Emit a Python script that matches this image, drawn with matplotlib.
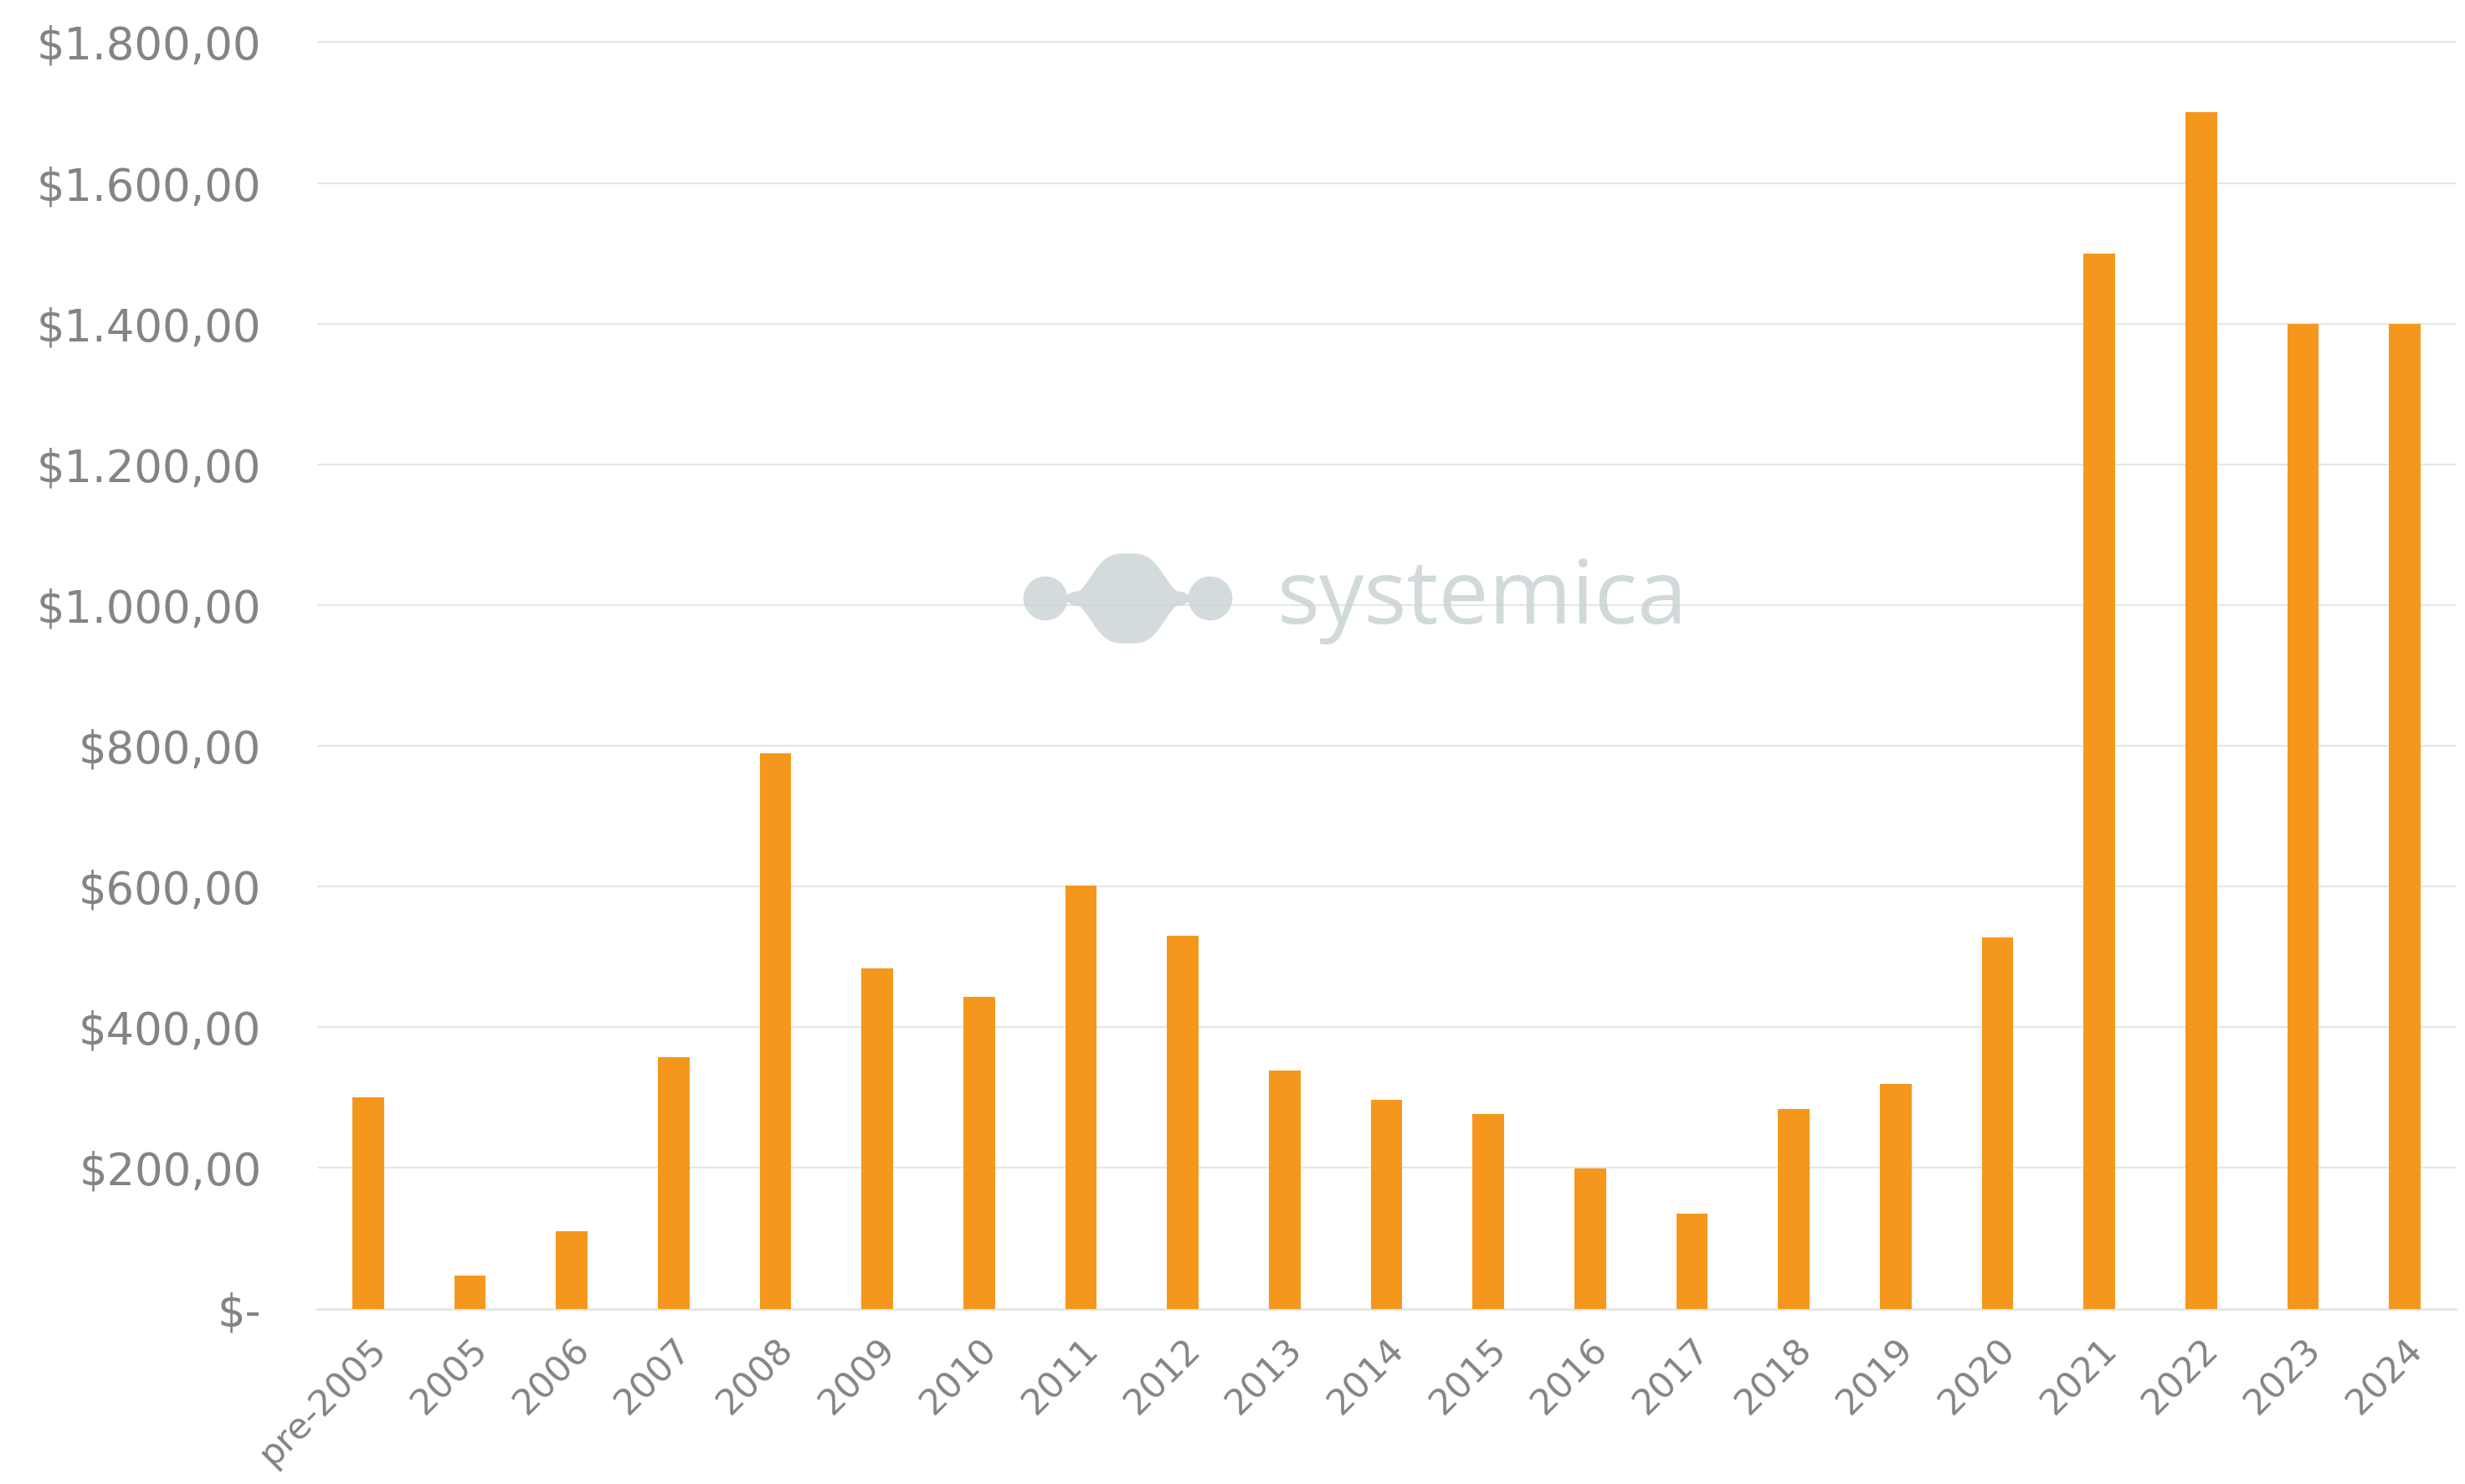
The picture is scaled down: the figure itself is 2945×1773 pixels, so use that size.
import numpy as np
import matplotlib.pyplot as plt

# Data
categories = ['pre-2005', '2005', '2006', '2007', '2008', '2009', '2010', '2011', '2012',
              '2013', '2014', '2015', '2016', '2017', '2018', '2019', '2020', '2021',
              '2022', '2023', '2024']
values = [300, 47, 110, 358, 789, 484, 443, 601, 530,
          338, 297, 277, 199, 135, 284, 319, 527, 1500,
          1700, 1400, 1400]
ytick_values = [0, 200, 400, 600, 800, 1000, 1200, 1400, 1600, 1800]
ytick_labels = ['$-', '$200,00', '$400,00', '$600,00', '$800,00', '$1.000,00',
                '$1.200,00', '$1.400,00', '$1.600,00', '$1.800,00']

W, H = 2945, 1773
BAR_COLOR = '#f6971d'
GRID_COLOR = '#e6e6e6'
TEXT_COLOR = '#848484'
LOGO_COLOR = '#cdd5d6'

fig = plt.figure(figsize=(W / 100, H / 100), dpi=100)
fig.patch.set_facecolor('white')

# main axes (pixel layout)
ax = fig.add_axes([379 / W, 209.5 / H, (2934 - 379) / W, (1563.5 - 42) / H])
x = np.arange(len(categories))
ax.bar(x, values, width=0.31, color=BAR_COLOR, zorder=3)

ax.set_xlim(-0.5, len(categories) - 0.5)
ax.set_ylim(0, 1810)
ax.set_yticks(ytick_values)
ax.set_yticklabels(ytick_labels)
ax.set_xticks(x)
ax.set_xticklabels(categories, rotation=45, ha='right', rotation_mode='anchor')

ax.yaxis.grid(True, color=GRID_COLOR, linewidth=1.5)
ax.set_axisbelow(True)
for side in ['top', 'right', 'left']:
    ax.spines[side].set_visible(False)
ax.spines['bottom'].set_color(GRID_COLOR)
ax.spines['bottom'].set_linewidth(2)

ax.tick_params(axis='y', length=0, pad=48, labelsize=38, labelcolor=TEXT_COLOR)
ax.tick_params(axis='x', length=0, pad=20, labelsize=31, labelcolor=TEXT_COLOR)

# watermark logo: wave shape + wordmark
lx0, lx1, ly0, ly1 = 1210, 1485, 655, 775   # pixel box (top-down y)
lax = fig.add_axes([lx0 / W, (H - ly1) / H, (lx1 - lx0) / W, (ly1 - ly0) / H])
cx = 1347 - (lx0 + lx1) / 2
dx = np.linspace(-125, 125, 800)
ad = np.abs(dx)
main = 53.8 * np.exp(-(ad / 48.6) ** 3.44)
side = np.sqrt(np.clip(26.3 ** 2 - (ad - 98.5) ** 2, 0, None))
neck = 8 * np.exp(-((ad - 63) / 12) ** 2)
h = (main ** 4 + side ** 4 + neck ** 4) ** 0.25
lax.fill_between(dx + cx, -h, h, color=LOGO_COLOR, alpha=0.85, linewidth=0, zorder=5)
lax.set_xlim(-(lx1 - lx0) / 2, (lx1 - lx0) / 2)
lax.set_ylim(-(ly1 - ly0) / 2 - 0.5, (ly1 - ly0) / 2 - 0.5)
lax.axis('off')

fig.text(1526 / W, (H - 745) / H, 'systemica', fontsize=77, color=LOGO_COLOR,
         family=['Open Sans', 'DejaVu Sans'], fontweight='normal',
         va='baseline', ha='left', alpha=0.9, zorder=5)

fig.savefig('out.png', dpi=100, facecolor='white')
